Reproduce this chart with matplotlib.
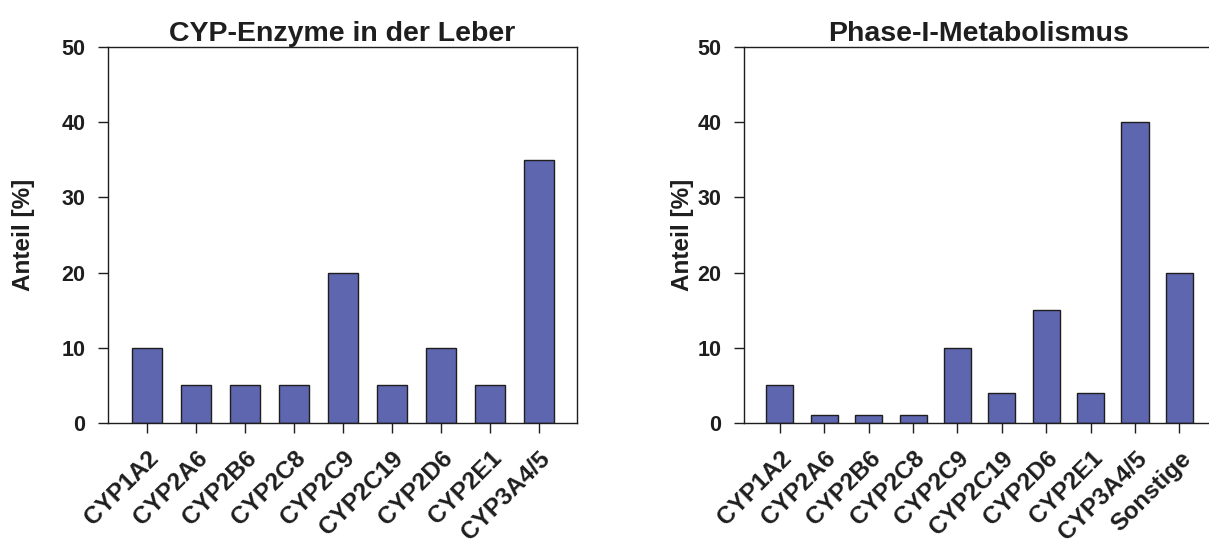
import matplotlib.pyplot as plt

plt.rcParams['font.family'] = ['Liberation Sans', 'DejaVu Sans']
plt.rcParams['font.weight'] = 'bold'

leber_labels = ['CYP1A2', 'CYP2A6', 'CYP2B6', 'CYP2C8', 'CYP2C9',
                'CYP2C19', 'CYP2D6', 'CYP2E1', 'CYP3A4/5']
leber_values = [10, 5, 5, 5, 20, 5, 10, 5, 35]

phase_labels = ['CYP1A2', 'CYP2A6', 'CYP2B6', 'CYP2C8', 'CYP2C9',
                'CYP2C19', 'CYP2D6', 'CYP2E1', 'CYP3A4/5', 'Sonstige']
phase_values = [5, 1, 1, 1, 10, 4, 15, 4, 40, 20]

yticks = [0, 10, 20, 30, 40, 50]
bar_color = '#5E66B0'
ink = '#1e1e1e'

W, H = 1209, 546
fig = plt.figure(figsize=(W / 100, H / 100), dpi=100)


def panel(left, right, labels, values, title, xlim, ylabel_x):
    ax = fig.add_axes([left / W, 1 - 423 / H, (right - left) / W, (423 - 47) / H])
    x = range(len(values))
    ax.bar(x, values, width=0.61, color=bar_color, edgecolor=ink, linewidth=1.0)
    ax.set_xlim(*xlim)
    ax.set_ylim(0, 50)
    ax.set_yticks(yticks)
    ax.set_xticks(list(x))
    ax.set_xticklabels(labels, rotation=45, ha='right', rotation_mode='anchor',
                       fontsize=17.5, fontweight='bold', color=ink)
    ax.tick_params(axis='both', direction='out', length=7.2, width=1.0, colors=ink)
    ax.tick_params(axis='y', labelsize=15.5, pad=9)
    ax.tick_params(axis='x', pad=10)
    for s in ax.spines.values():
        s.set_linewidth(1.0)
        s.set_color(ink)
    ax.set_title(title, fontsize=20.5, fontweight='bold', pad=3, color=ink)
    ax.set_ylabel('Anteil [%]', fontsize=17.5, fontweight='bold', color=ink)
    ax.yaxis.set_label_coords((ylabel_x - left) / (right - left), 0.5)
    return ax


panel(108, 577, leber_labels, leber_values, 'CYP-Enzyme in der Leber',
      (-0.8, 8.78), 35)
panel(744, 1214, phase_labels, phase_values, 'Phase-I-Metabolismus',
      (-0.81, 9.78), 694)

fig.savefig('out.png', dpi=100)
